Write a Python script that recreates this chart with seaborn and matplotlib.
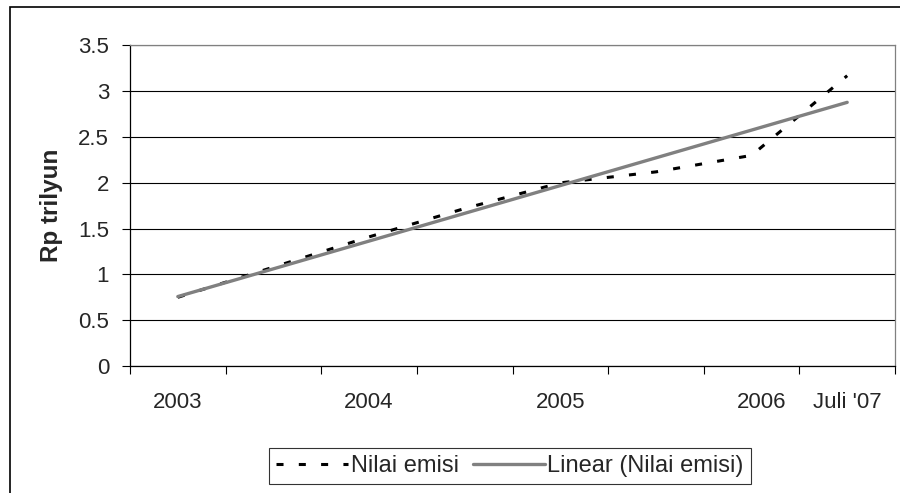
import numpy as np
import pandas as pd
import matplotlib
matplotlib.use("Agg")
import matplotlib.pyplot as plt
import matplotlib.transforms as mtransforms
from matplotlib.patches import Rectangle
import seaborn as sns

# data (Rp trilyun per period)
periods = ["2003", "", "2004", "", "2005", "", "2006", "Juli '07"]
nilai_emisi = [0.75, 1.08, 1.41, 1.72, 2.0, 2.12, 2.3, 3.17]
y_ticks = [0, 0.5, 1, 1.5, 2, 2.5, 3, 3.5]

df = pd.DataFrame({"pos": np.arange(len(periods)), "nilai": nilai_emisi})
slope, intercept = np.polyfit(df["pos"], df["nilai"], 1)
df["trend"] = intercept + slope * df["pos"]

sns.set_style("white")
plt.rcParams["font.family"] = ["Liberation Sans", "DejaVu Sans"]
FS = 16

fig = plt.figure(figsize=(9, 4.93), dpi=100)
ax = fig.add_axes([130 / 900, 1 - 366 / 493, 765 / 900, 320.5 / 493])

sns.lineplot(data=df, x="pos", y="nilai", ax=ax, color="black", linewidth=2.2,
             linestyle=(0, (2.3, 5.0)), label="Nilai emisi")
sns.lineplot(data=df, x="pos", y="trend", ax=ax, color="#808080", linewidth=2.4,
             label="Linear (Nilai emisi)")

ax.set_xlim(-0.5, len(periods) - 0.5)
ax.set_ylim(0, 3.5)
ax.set_yticks(y_ticks)
ax.set_yticklabels([f"{v:g}" for v in y_ticks])
ax.set_xticks(df["pos"])
ax.set_xticklabels(periods)
ax.set_xticks(np.arange(-0.5, len(periods)), minor=True)
ax.tick_params(axis="x", which="major", length=0, pad=19, labelsize=FS)
ax.tick_params(axis="x", which="minor", length=6, width=0.8, color="black", direction="out")
ax.tick_params(axis="y", length=6, width=0.8, color="black", direction="out", pad=9, labelsize=FS)
ax.tick_params(bottom=True, left=True, which="both")
ax.grid(axis="y", color="black", linewidth=0.8)
ax.grid(axis="x", visible=False)
ax.set_axisbelow(True)

# excel nudges the 2006 label a bit to the right
lbl = ax.get_xticklabels()[6]
lbl.set_transform(lbl.get_transform() + mtransforms.ScaledTranslation(10 / 100, 0, fig.dpi_scale_trans))

for side in ["left", "bottom"]:
    ax.spines[side].set_color("black")
    ax.spines[side].set_linewidth(0.9)
for side in ["top", "right"]:
    ax.spines[side].set_color("#808080")
    ax.spines[side].set_linewidth(0.9)

ax.set_xlabel("")
ax.set_ylabel("Rp trilyun", fontsize=17.5, fontweight="bold", labelpad=11)

handles, labels = ax.get_legend_handles_labels()
ax.get_legend().remove()
leg = fig.legend(handles, labels, loc="center", ncol=2,
                 bbox_to_anchor=(510 / 900, 1 - 466 / 493), fontsize=17,
                 frameon=True, fancybox=False, edgecolor="black",
                 handlelength=3.05, handletextpad=0.1, columnspacing=0.6,
                 borderpad=0.3, borderaxespad=0)
leg.get_frame().set_linewidth(0.8)

# outer chart border (cut off at right and bottom like the original)
fig.patches.append(Rectangle((10 / 900, -0.05), 1.2, 1 - 7 / 493 + 0.05,
                             transform=fig.transFigure, fill=False,
                             edgecolor="black", linewidth=1.2))

fig.savefig("out.png", dpi=100)
